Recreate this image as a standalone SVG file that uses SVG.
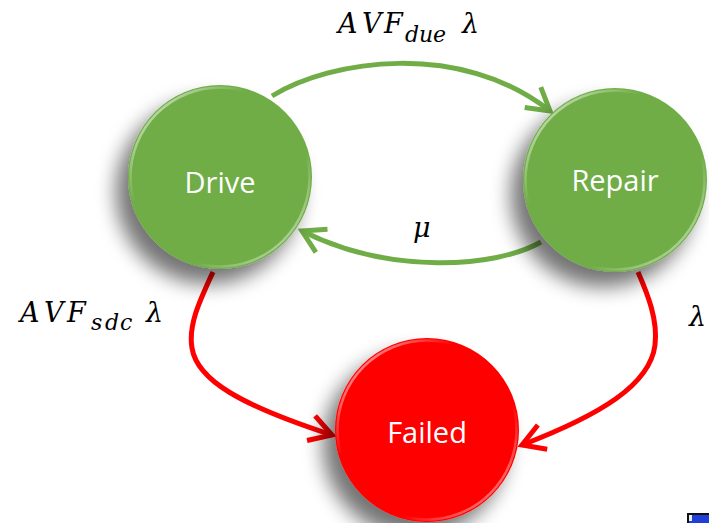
<svg xmlns="http://www.w3.org/2000/svg" width="709" height="523" viewBox="0 0 709 523">
  <defs>
    <!-- soft shadow falling to the lower left of each state -->
    <filter id="shadow" x="-40%" y="-40%" width="180%" height="180%">
      <feGaussianBlur in="SourceAlpha" stdDeviation="10"/>
      <feOffset dx="-12" dy="15" result="blur"/>
      <feComponentTransfer><feFuncA type="linear" slope="0.55"/></feComponentTransfer>
      <feMerge><feMergeNode/><feMergeNode in="SourceGraphic"/></feMerge>
    </filter>
    <!-- glossy rim: bright at upper-left and lower-right -->
    <linearGradient id="rim" x1="0" y1="0" x2="1" y2="1">
      <stop offset="0" stop-color="#fff" stop-opacity="0.85"/>
      <stop offset="0.33" stop-color="#fff" stop-opacity="0"/>
      <stop offset="0.67" stop-color="#fff" stop-opacity="0"/>
      <stop offset="1" stop-color="#fff" stop-opacity="0.7"/>
    </linearGradient>
    <marker id="headGreen" markerUnits="userSpaceOnUse" markerWidth="40" markerHeight="40" refX="0" refY="0" viewBox="-30 -20 40 40" orient="auto" overflow="visible">
      <polyline points="-22,-13 0,0 -22,13" fill="none" stroke="#70AD47" stroke-width="5"/>
    </marker>
    <marker id="headRed" markerUnits="userSpaceOnUse" markerWidth="40" markerHeight="40" refX="0" refY="0" viewBox="-30 -20 40 40" orient="auto" overflow="visible">
      <polyline points="-22,-13 0,0 -22,13" fill="none" stroke="#FF0000" stroke-width="5"/>
    </marker>
  </defs>
  <style>
    .state text { font-family: "Open Sans", "Noto Sans", sans-serif; font-size: 29px; fill: #fff; text-anchor: middle; }
    .rimline { fill: none; stroke: url(#rim); stroke-width: 2.5; }
    .edge { fill: none; stroke-width: 5; }
    .green { stroke: #70AD47; marker-end: url(#headGreen); }
    .red { stroke: #FF0000; marker-end: url(#headRed); }
    .math { font-family: "DejaVu Serif", "Liberation Serif", serif; font-style: italic; fill: #000; }
  </style>

  <rect width="709" height="523" fill="#fff"/>

  <!-- connectors -->
  <g id="connectors">
    <path class="edge green" d="M272,96 C330,60 460,40 550,111"/>
    <path class="edge green" d="M541,242 C495,268 390,275 302,231"/>
    <path class="edge red" d="M213,272 C200,300 188,325 192,348 C197,380 240,405 332,435"/>
    <path class="edge red" d="M638,272 C648,295 658,320 655,345 C650,385 600,415 522,445"/>
  </g>

  <!-- states -->
  <g id="drive" class="state">
    <circle cx="220" cy="177" r="92" fill="#70AD47" filter="url(#shadow)"/>
    <circle class="rimline" cx="220" cy="177" r="89.5"/>
    <text x="220" y="193">Drive</text>
  </g>
  <g id="repair" class="state">
    <circle cx="615" cy="180" r="92" fill="#70AD47" filter="url(#shadow)"/>
    <circle class="rimline" cx="615" cy="180" r="89.5"/>
    <text x="615" y="191">Repair</text>
  </g>
  <g id="failed" class="state">
    <circle cx="427" cy="430" r="92" fill="#FF0000" filter="url(#shadow)"/>
    <circle class="rimline" cx="427" cy="430" r="89.5"/>
    <text x="427" y="443">Failed</text>
  </g>

  <!-- transition rates -->
  <g id="rates">
    <text class="math" font-size="27"><tspan x="338" y="33">A</tspan><tspan x="362" y="33">V</tspan><tspan x="384" y="33">F</tspan><tspan x="405" y="42" font-size="22">d</tspan><tspan x="419" y="42" font-size="22">u</tspan><tspan x="433" y="42" font-size="22">e</tspan><tspan x="462" y="33">λ</tspan></text>
    <text class="math" font-size="27"><tspan x="20" y="322">A</tspan><tspan x="44" y="322">V</tspan><tspan x="67" y="322">F</tspan><tspan x="91" y="330" font-size="22">s</tspan><tspan x="105" y="330" font-size="22">d</tspan><tspan x="120" y="330" font-size="22">c</tspan><tspan x="146" y="322">λ</tspan></text>
    <text class="math" font-size="27" x="413" y="237">μ</text>
    <text class="math" font-size="27" x="689" y="326">λ</text>
  </g>

  <!-- small window icon in the corner -->
  <g id="corner-icon">
    <rect x="687" y="513" width="22" height="10" fill="#111"/>
    <rect x="689" y="515" width="20" height="8" fill="#1f3fd8"/>
    <rect x="689" y="515" width="3" height="6" fill="#e8eefc"/>
  </g>
</svg>
